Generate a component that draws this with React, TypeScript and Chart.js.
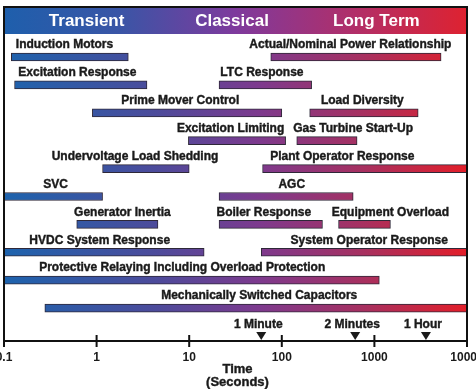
import React, { useEffect, useRef } from 'react';
import { Chart, registerables } from 'chart.js';
Chart.register(...registerables);

// Time-frame bars (seconds, log scale)
const barLabels = [
  'Induction Motors',
  'Actual/Nominal Power Relationship',
  'Excitation Response',
  'LTC Response',
  'Prime Mover Control',
  'Load Diversity',
  'Excitation Limiting',
  'Gas Turbine Start-Up',
  'Undervoltage Load Shedding',
  'Plant Operator Response',
  'SVC',
  'AGC',
  'Generator Inertia',
  'Boiler Response',
  'Equipment Overload',
  'HVDC System Response',
  'System Operator Response',
  'Protective Relaying Including Overload Protection',
  'Mechanically Switched Capacitors',
];
const barRows = [0, 0, 1, 1, 2, 2, 3, 3, 4, 4, 5, 5, 6, 6, 6, 7, 7, 8, 9];
const barStarts = [0.12, 76, 0.13, 21, 0.9, 200, 9.8, 145, 1.16, 62, 0.1, 21, 0.61, 21, 410, 0.1, 60, 0.1, 0.276];
const barEnds = [2.2, 5250, 3.5, 210, 100, 2970, 110, 650, 10, 10000, 1.16, 590, 4.6, 275, 1490, 14.5, 10000, 1130, 10000];
// where each label is centred (seconds)
const labelAt = [0.45, 550, 0.62, 61, 8, 740, 28, 590, 2.6, 450, 0.36, 128, 1.9, 64, 1490, 1.08, 880, 8.4, 57];

const tickValues = [0.1, 1, 10, 100, 1000, 10000];
const tickLabels = ['0.1', '1', '10', '100', '1000', '10000'];

const headerLabels = ['Transient', 'Classical', 'Long Term'];
const headerAt = [0.78, 29, 1050];

const markerLabels = ['1 Minute', '2 Minutes', '1 Hour'];
const markerValues = [60, 620, 3600];

const axisTitle = ['Time', '(Seconds)'];

const FONT = '"Liberation Sans", Arial, sans-serif';

function makeGrad(ctx: CanvasRenderingContext2D, left: number, right: number) {
  const g = ctx.createLinearGradient(left, 0, right, 0);
  g.addColorStop(0, '#1d63ad');
  g.addColorStop(0.33, '#4d4b9b');
  g.addColorStop(0.55, '#7d3a8e');
  g.addColorStop(0.78, '#a8305f');
  g.addColorStop(1, '#e31e29');
  return g;
}

function makeHeaderGrad(ctx: CanvasRenderingContext2D, left: number, right: number) {
  const g = ctx.createLinearGradient(left, 0, right, 0);
  g.addColorStop(0, '#1e5fac');
  g.addColorStop(0.25, '#3a55a6');
  g.addColorStop(0.5, '#7e3a9d');
  g.addColorStop(0.75, '#b02f6a');
  g.addColorStop(1, '#de2230');
  return g;
}

function heavyText(ctx: CanvasRenderingContext2D, t: string, px: number, py: number) {
  ctx.fillText(t, px, py);
  ctx.strokeText(t, px, py);
}

const overlay = {
  id: 'overlay',
  afterDraw(chart: any) {
    const { ctx, chartArea, scales } = chart;
    const { left, right, bottom } = chartArea;
    const x = scales.x;
    const y = scales.y;
    const hTop = 7;
    const hBot = 34;
    ctx.save();
    // header band
    ctx.fillStyle = makeHeaderGrad(ctx, left, right);
    ctx.fillRect(left, hTop, right - left, hBot - hTop);
    ctx.fillStyle = '#ffffff';
    ctx.font = `bold 17px ${FONT}`;
    ctx.textAlign = 'center';
    ctx.textBaseline = 'middle';
    headerLabels.forEach((t, i) => ctx.fillText(t, x.getPixelForValue(headerAt[i]), 21));

    // frame
    ctx.strokeStyle = '#111111';
    ctx.lineWidth = 2;
    ctx.beginPath();
    ctx.moveTo(left, bottom);
    ctx.lineTo(left, hTop);
    ctx.lineTo(right, hTop);
    ctx.lineTo(right, bottom);
    ctx.lineTo(left, bottom);
    ctx.stroke();

    // decade ticks crossing the axis
    tickValues.forEach((v) => {
      const px = x.getPixelForValue(v);
      ctx.beginPath();
      ctx.moveTo(px, bottom - 6);
      ctx.lineTo(px, bottom + 6);
      ctx.stroke();
    });

    // bar labels
    ctx.fillStyle = '#1a1a1a';
    ctx.strokeStyle = '#1a1a1a';
    ctx.lineWidth = 0.4;
    ctx.font = `bold 12px ${FONT}`;
    barLabels.forEach((t, i) => {
      heavyText(ctx, t, x.getPixelForValue(labelAt[i]), y.getPixelForValue(barRows[i]) - 12);
    });

    // markers
    markerLabels.forEach((t, i) => {
      const px = x.getPixelForValue(markerValues[i]);
      ctx.fillStyle = '#1a1a1a';
      heavyText(ctx, t, px - 3, bottom - 16);
      ctx.beginPath();
      ctx.moveTo(px - 5, bottom - 9);
      ctx.lineTo(px + 5, bottom - 9);
      ctx.lineTo(px, bottom - 1);
      ctx.closePath();
      ctx.fill();
    });

    // axis title
    ctx.font = `bold 13px ${FONT}`;
    const cx = (left + right) / 2 + 2;
    heavyText(ctx, axisTitle[0], cx, 369);
    heavyText(ctx, axisTitle[1], cx, 382);
    ctx.restore();
  },
};

export default function App() {
  const ref = useRef<HTMLCanvasElement | null>(null);
  useEffect(() => {
    if (!ref.current) return;
    const chart = new Chart(ref.current, {
      type: 'bar',
      data: {
        datasets: [
          {
            data: barRows.map((r, i) => ({ x: [barStarts[i], barEnds[i]], y: r })) as any,
            backgroundColor: (c: any) => {
              const ca = c.chart.chartArea;
              if (!ca) return '#7d3a8e';
              return makeGrad(c.chart.ctx, ca.left, ca.right);
            },
            borderColor: '#2e2838',
            borderWidth: 1,
            borderSkipped: false,
            barThickness: 8,
          } as any,
        ],
      },
      options: {
        indexAxis: 'y',
        animation: false,
        responsive: false,
        layout: { padding: { left: 4, right: 9, top: 34, bottom: 0 } },
        plugins: { legend: { display: false }, tooltip: { enabled: false } },
        scales: {
          x: {
            type: 'logarithmic',
            min: 0.1,
            max: 10000,
            offset: false,
            grid: { display: false, drawTicks: false },
            border: { display: false },
            afterBuildTicks: (s: any) => {
              s.ticks = tickValues.map((v) => ({ value: v }));
            },
            afterFit: (s: any) => {
              s.height = 48;
              s.paddingLeft = 0;
              s.paddingRight = 0;
            },
            ticks: {
              autoSkip: false,
              maxRotation: 0,
              padding: 9,
              color: '#1a1a1a',
              font: { family: FONT, size: 12, weight: 'bold' },
              callback: (_v: any, i: number) => tickLabels[i],
            },
          },
          y: {
            type: 'linear',
            display: false,
            reverse: true,
            offset: false,
            min: -0.825,
            max: 10.18,
          },
        },
      },
      plugins: [overlay],
    } as any);
    return () => chart.destroy();
  }, []);
  return (
    <div style={{ position: 'absolute', left: 0, top: 0, width: 476, height: 389, background: '#fff' }}>
      <canvas ref={ref} width={476} height={389} style={{ display: 'block' }} />
    </div>
  );
}
